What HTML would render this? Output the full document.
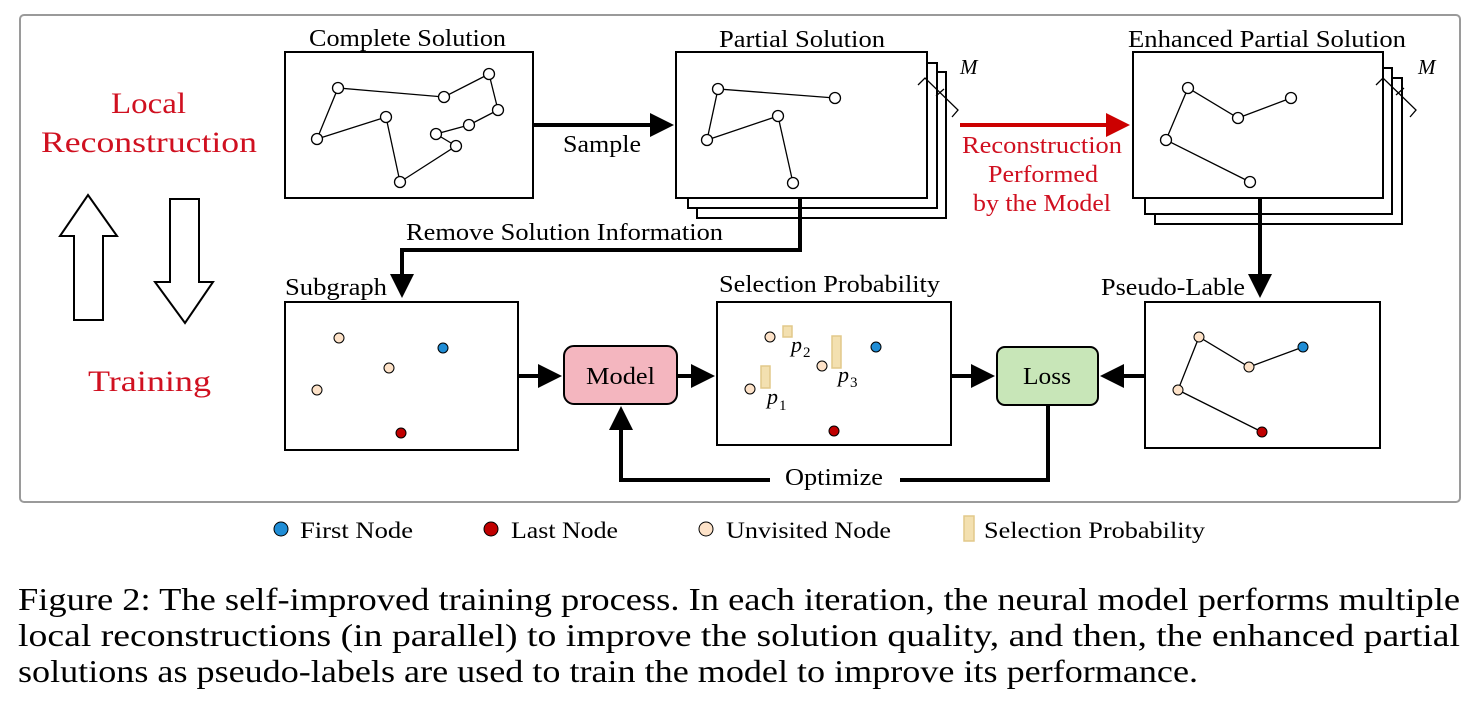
<!DOCTYPE html>
<html><head><meta charset="utf-8"><style>
html,body{margin:0;padding:0;background:#fff;}
svg{display:block;}
text{font-family:"Liberation Serif",serif;}
</style></head><body>
<svg width="1473" height="713" viewBox="0 0 1473 713" xmlns="http://www.w3.org/2000/svg">
<defs>
<marker id="ah" markerWidth="6" markerHeight="6" refX="5" refY="3" orient="auto" markerUnits="strokeWidth"><path d="M0,0 L6,3 L0,6 z" fill="#000"/></marker>
<marker id="ahr" markerWidth="6" markerHeight="6" refX="5" refY="3" orient="auto" markerUnits="strokeWidth"><path d="M0,0 L6,3 L0,6 z" fill="#c00"/></marker>
</defs>
<rect x="20" y="15" width="1440" height="487" rx="4" fill="none" stroke="#9a9a9a" stroke-width="2"/>

<!-- left labels -->
<g fill="#d01020" font-size="30" lengthAdjust="spacingAndGlyphs">
<text x="111" y="113" textLength="75" lengthAdjust="spacingAndGlyphs">Local</text>
<text x="41" y="152" textLength="216" lengthAdjust="spacingAndGlyphs">Reconstruction</text>
<text x="88" y="391" textLength="123" lengthAdjust="spacingAndGlyphs">Training</text>
</g>
<path d="M88,195 L117,236 L103,236 L103,320 L74,320 L74,236 L60,236 Z" fill="#fff" stroke="#000" stroke-width="2"/>
<path d="M170,199 L199,199 L199,282 L213,282 L185,323 L155,282 L170,282 Z" fill="#fff" stroke="#000" stroke-width="2"/>

<g font-size="24" fill="#000">
<text x="309" y="46" textLength="197" lengthAdjust="spacingAndGlyphs">Complete Solution</text>
<text x="719" y="47" textLength="166" lengthAdjust="spacingAndGlyphs">Partial Solution</text>
<text x="1128" y="47" textLength="278" lengthAdjust="spacingAndGlyphs">Enhanced Partial Solution</text>
<text x="563" y="152" textLength="78" lengthAdjust="spacingAndGlyphs">Sample</text>
<text x="406" y="240" textLength="317" lengthAdjust="spacingAndGlyphs">Remove Solution Information</text>
<text x="719" y="292" textLength="221" lengthAdjust="spacingAndGlyphs">Selection Probability</text>
<text x="785" y="485" textLength="98" lengthAdjust="spacingAndGlyphs">Optimize</text>
<text x="285" y="295" textLength="102" lengthAdjust="spacingAndGlyphs">Subgraph</text>
<text x="1101" y="295" textLength="144" lengthAdjust="spacingAndGlyphs">Pseudo-Lable</text>
</g>

<!-- complete solution -->
<rect x="285" y="52" width="248" height="146" fill="#fff" stroke="#000" stroke-width="2"/>
<polyline points="317,139 338,88 444,97 489,74 498,110 469,125 436,134 456,146 400,182 386,117 317,139" fill="none" stroke="#000" stroke-width="1.3"/>
<g fill="#fff" stroke="#000" stroke-width="1.3">
<circle cx="338" cy="88" r="5.5"/><circle cx="444" cy="97" r="5.5"/><circle cx="489" cy="74" r="5.5"/><circle cx="498" cy="110" r="5.5"/><circle cx="469" cy="125" r="5.5"/><circle cx="436" cy="134" r="5.5"/><circle cx="456" cy="146" r="5.5"/><circle cx="400" cy="182" r="5.5"/><circle cx="386" cy="117" r="5.5"/><circle cx="317" cy="139" r="5.5"/>
</g>

<line x1="533" y1="125" x2="670" y2="125" stroke="#000" stroke-width="4" marker-end="url(#ah)"/>

<!-- partial solution stack -->
<rect x="697" y="72" width="249" height="146" fill="#fff" stroke="#000" stroke-width="2"/>
<rect x="688" y="63" width="249" height="145" fill="#fff" stroke="#000" stroke-width="2"/>
<rect x="676" y="52" width="251" height="146" fill="#fff" stroke="#000" stroke-width="2"/>
<polyline points="835,98 718,89 707,140 778,116 793,183" fill="none" stroke="#000" stroke-width="1.3"/>
<g fill="#fff" stroke="#000" stroke-width="1.3">
<circle cx="718" cy="89" r="5.5"/><circle cx="835" cy="98" r="5.5"/><circle cx="778" cy="116" r="5.5"/><circle cx="707" cy="140" r="5.5"/><circle cx="793" cy="183" r="5.5"/>
</g>
<path d="M918,85 L925,78 L958,110 L952,117 M936,96 L944,89" fill="none" stroke="#000" stroke-width="1.3"/>
<text x="960" y="74" font-size="21" font-style="italic">M</text>

<line x1="960" y1="125" x2="1126" y2="125" stroke="#c00" stroke-width="4" marker-end="url(#ahr)"/>
<g fill="#d01020" font-size="24">
<text x="962" y="153" textLength="160" lengthAdjust="spacingAndGlyphs">Reconstruction</text>
<text x="988" y="182" textLength="110" lengthAdjust="spacingAndGlyphs">Performed</text>
<text x="973" y="211" textLength="138" lengthAdjust="spacingAndGlyphs">by the Model</text>
</g>

<!-- enhanced stack -->
<rect x="1155" y="78" width="247" height="146" fill="#fff" stroke="#000" stroke-width="2"/>
<rect x="1145" y="68" width="247" height="146" fill="#fff" stroke="#000" stroke-width="2"/>
<rect x="1133" y="52" width="250" height="146" fill="#fff" stroke="#000" stroke-width="2"/>
<polyline points="1250,182 1166,140 1188,88 1238,118 1291,98" fill="none" stroke="#000" stroke-width="1.3"/>
<g fill="#fff" stroke="#000" stroke-width="1.3">
<circle cx="1188" cy="88" r="5.5"/><circle cx="1238" cy="118" r="5.5"/><circle cx="1291" cy="98" r="5.5"/><circle cx="1166" cy="140" r="5.5"/><circle cx="1250" cy="182" r="5.5"/>
</g>
<path d="M1376,85 L1383,78 L1416,110 L1410,117 M1396,95 L1404,88" fill="none" stroke="#000" stroke-width="1.3"/>
<text x="1418" y="74" font-size="21" font-style="italic">M</text>

<polyline points="800,198 800,250 402,250 402,294" fill="none" stroke="#000" stroke-width="4" marker-end="url(#ah)"/>
<line x1="1260" y1="198" x2="1260" y2="294" stroke="#000" stroke-width="4" marker-end="url(#ah)"/>

<!-- subgraph -->
<rect x="285" y="302" width="233" height="148" fill="#fff" stroke="#000" stroke-width="2"/>
<g stroke="#000" stroke-width="1">
<circle cx="339" cy="338" r="5" fill="#fde2c8"/><circle cx="443" cy="348" r="5" fill="#1f8dd6"/><circle cx="389" cy="368" r="5" fill="#fde2c8"/><circle cx="317" cy="390" r="5" fill="#fde2c8"/><circle cx="401" cy="433" r="5" fill="#c00000"/>
</g>
<line x1="518" y1="376" x2="558" y2="376" stroke="#000" stroke-width="4" marker-end="url(#ah)"/>
<rect x="564" y="346" width="113" height="58" rx="10" fill="#f4b6bf" stroke="#000" stroke-width="2"/>
<text x="586" y="384" font-size="24" textLength="69" lengthAdjust="spacingAndGlyphs">Model</text>
<line x1="677" y1="376" x2="711" y2="376" stroke="#000" stroke-width="4" marker-end="url(#ah)"/>

<!-- selection -->
<rect x="717" y="302" width="234" height="143" fill="#fff" stroke="#000" stroke-width="2"/>
<g fill="#f3e0b0" stroke="#e2c98a" stroke-width="1.5">
<rect x="783" y="326" width="9" height="11"/><rect x="832" y="336" width="9" height="32"/><rect x="761" y="366" width="9" height="22"/>
</g>
<g stroke="#000" stroke-width="1">
<circle cx="770" cy="337" r="5" fill="#fde2c8"/><circle cx="822" cy="366" r="5" fill="#fde2c8"/><circle cx="750" cy="389" r="5" fill="#fde2c8"/><circle cx="876" cy="347" r="5" fill="#1f8dd6"/><circle cx="834" cy="431" r="5" fill="#c00000"/>
</g>
<g font-size="22" font-style="italic"><text x="791" y="352">p</text><text x="838" y="382">p</text><text x="767" y="404">p</text></g>
<g font-size="15"><text x="803" y="357">2</text><text x="850" y="387">3</text><text x="779" y="410">1</text></g>
<line x1="951" y1="376" x2="991" y2="376" stroke="#000" stroke-width="4" marker-end="url(#ah)"/>
<rect x="997" y="347" width="101" height="58" rx="8" fill="#c8e6b8" stroke="#000" stroke-width="2"/>
<text x="1023" y="384" font-size="24" textLength="48" lengthAdjust="spacingAndGlyphs">Loss</text>
<line x1="1145" y1="376" x2="1104" y2="376" stroke="#000" stroke-width="4" marker-end="url(#ah)"/>

<!-- pseudo -->
<rect x="1145" y="302" width="235" height="146" fill="#fff" stroke="#000" stroke-width="2"/>
<polyline points="1262,432 1178,390 1199,337 1249,367 1303,347" fill="none" stroke="#000" stroke-width="1.3"/>
<g stroke="#000" stroke-width="1">
<circle cx="1199" cy="337" r="5" fill="#fde2c8"/><circle cx="1249" cy="367" r="5" fill="#fde2c8"/><circle cx="1303" cy="347" r="5" fill="#1f8dd6"/><circle cx="1178" cy="390" r="5" fill="#fde2c8"/><circle cx="1262" cy="432" r="5" fill="#c00000"/>
</g>

<polyline points="1048,405 1048,480 900,480" fill="none" stroke="#000" stroke-width="4"/>
<polyline points="770,480 621,480 621,410" fill="none" stroke="#000" stroke-width="4" marker-end="url(#ah)"/>

<!-- legend -->
<g stroke="#000" stroke-width="1">
<circle cx="281" cy="529" r="7" fill="#1f8dd6"/><circle cx="491" cy="529" r="7" fill="#c00000"/><circle cx="706" cy="529" r="7" fill="#fde2c8"/>
</g>
<rect x="964" y="516" width="10" height="25" fill="#f3e0b0" stroke="#e2c98a" stroke-width="1.5"/>
<g font-size="23">
<text x="300" y="538" textLength="113" lengthAdjust="spacingAndGlyphs">First Node</text>
<text x="511" y="538" textLength="107" lengthAdjust="spacingAndGlyphs">Last Node</text>
<text x="726" y="538" textLength="165" lengthAdjust="spacingAndGlyphs">Unvisited Node</text>
<text x="984" y="538" textLength="221" lengthAdjust="spacingAndGlyphs">Selection Probability</text>
</g>

<!-- caption -->
<g font-size="32">
<text x="18" y="610" textLength="1442" lengthAdjust="spacingAndGlyphs">Figure 2: The self-improved training process. In each iteration, the neural model performs multiple</text>
<text x="18" y="646" textLength="1442" lengthAdjust="spacingAndGlyphs">local reconstructions (in parallel) to improve the solution quality, and then, the enhanced partial</text>
<text x="18" y="682" textLength="1180" lengthAdjust="spacingAndGlyphs">solutions as pseudo-labels are used to train the model to improve its performance.</text>
</g>
</svg>
</body></html>
